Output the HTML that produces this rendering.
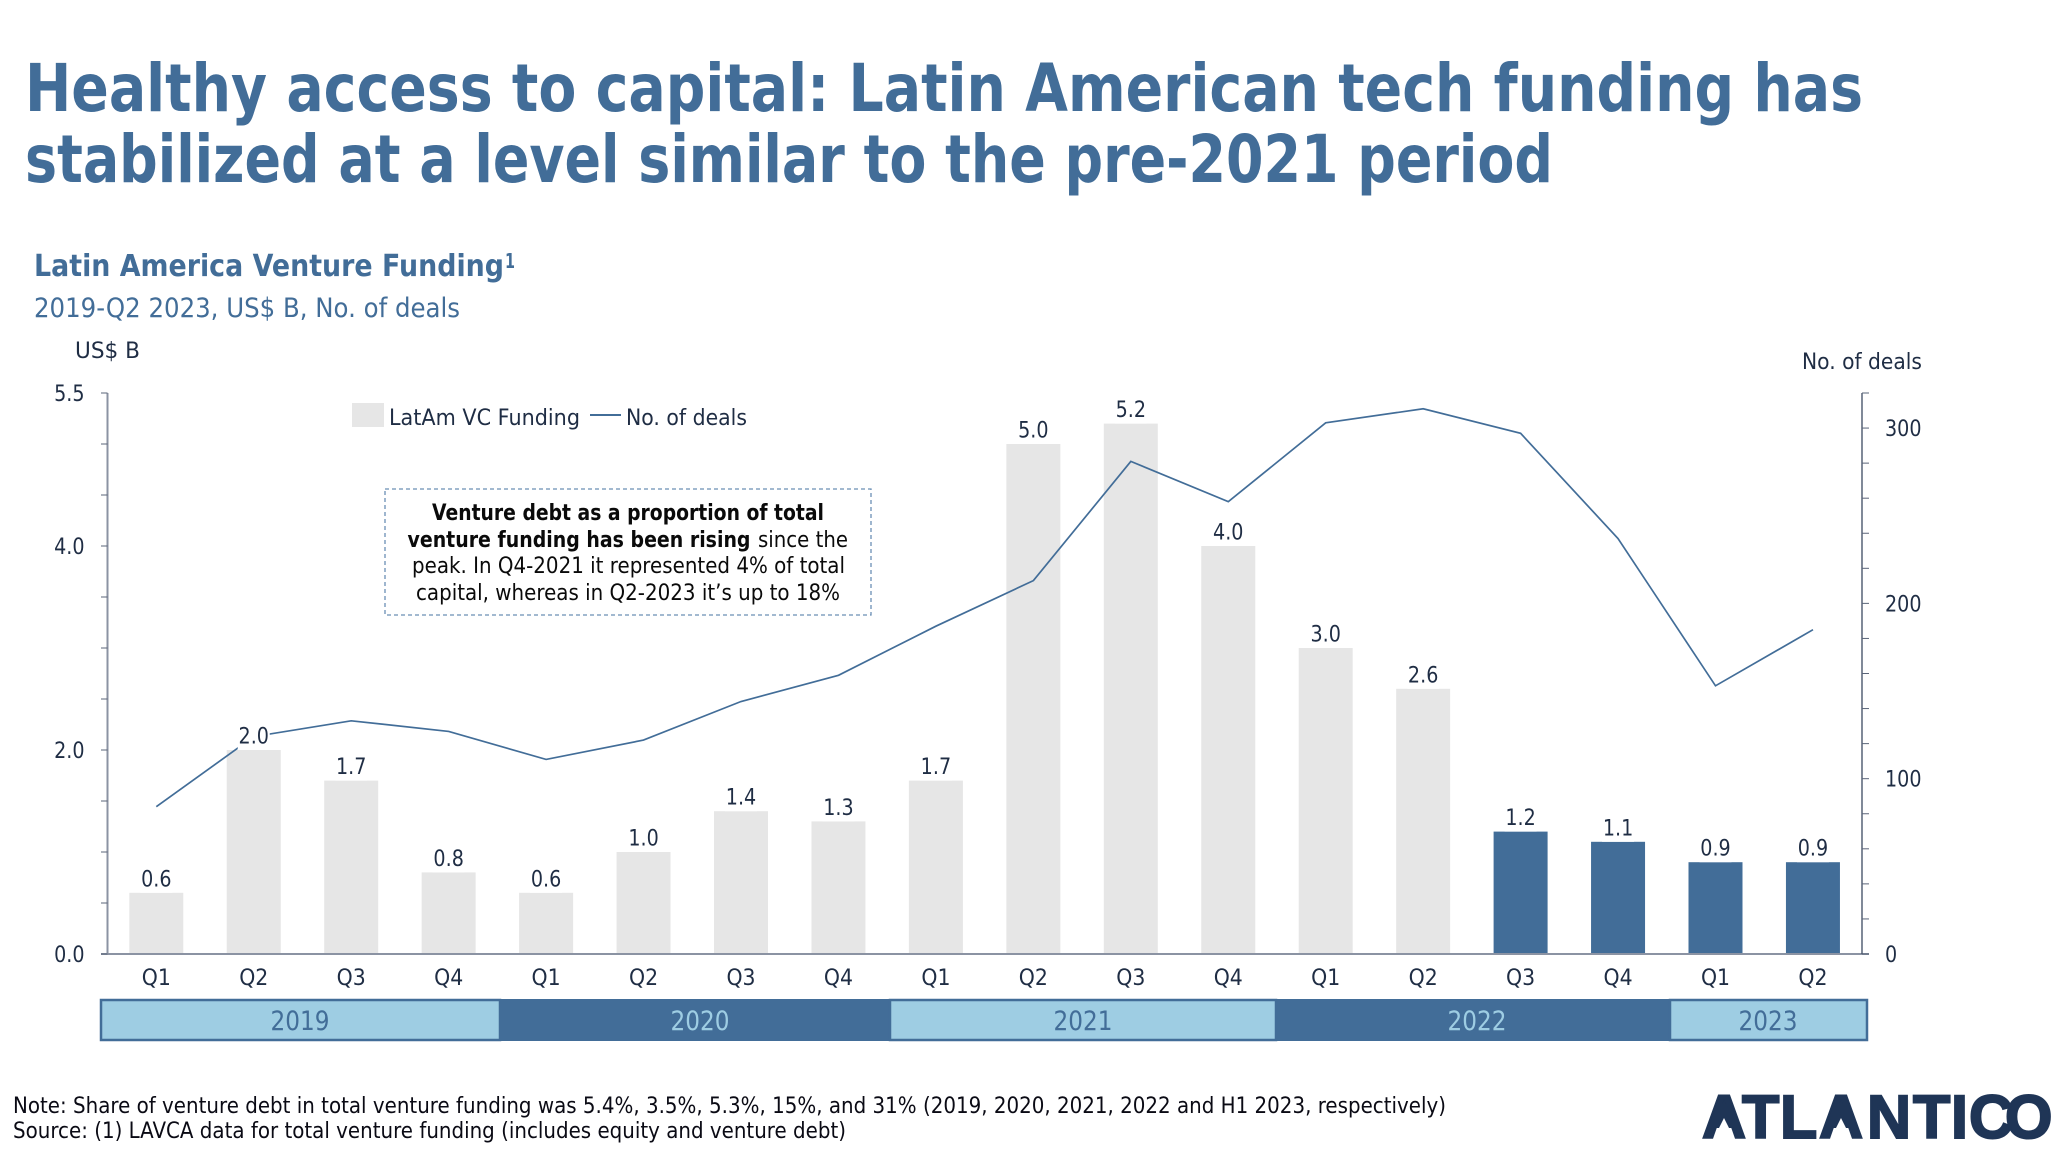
<!DOCTYPE html>
<html lang="en">
<head>
<meta charset="utf-8">
<title>Latin America Venture Funding</title>
<style>
html,body{margin:0;padding:0;background:#fff;width:2068px;height:1162px;overflow:hidden}
svg{display:block}
text{font-family:"DejaVu Sans","Liberation Sans",sans-serif;fill:#1f2d44}
.title{font-size:66px;font-weight:700;fill:#426d98}
.sub{fill:#426d98}
.note{font-size:22px;fill:#0a0a14}
.call{font-size:22px;fill:#0a0a0a}
.year{font-size:27px;text-anchor:middle}
</style>
</head>
<body>
<svg id="chart" width="2068" height="1162" viewBox="0 0 2068 1162" xmlns="http://www.w3.org/2000/svg">
  <text class="title" x="25" y="111" textLength="1838" lengthAdjust="spacingAndGlyphs">Healthy access to capital: Latin American tech funding has</text>
  <text class="title" x="25" y="182" textLength="1528" lengthAdjust="spacingAndGlyphs">stabilized at a level similar to the pre-2021 period</text>
  <text class="sub" x="34" y="276" font-size="30" font-weight="700" textLength="470" lengthAdjust="spacingAndGlyphs">Latin America Venture Funding</text>
  <text class="sub" x="505" y="268" font-size="20" font-weight="700" textLength="10" lengthAdjust="spacingAndGlyphs">1</text>
  <text class="sub" x="34" y="317" font-size="27" textLength="426" lengthAdjust="spacingAndGlyphs">2019-Q2 2023, US$ B, No. of deals</text>
  <text x="75" y="358" font-size="22" textLength="65" lengthAdjust="spacingAndGlyphs">US$ B</text>
  <text x="1802" y="369" font-size="22" textLength="120" lengthAdjust="spacingAndGlyphs">No. of deals</text>

  <g id="bars"></g>
  <g id="axes"></g>
  <g id="line-layer"></g>
  <g id="labels"></g>

  <g>
    <rect x="352" y="403" width="32" height="24" fill="#e6e6e6"/>
    <text x="389" y="425" font-size="22" textLength="191" lengthAdjust="spacingAndGlyphs">LatAm VC Funding</text>
    <line x1="590" x2="621" y1="415" y2="415" stroke="#426d98" stroke-width="2"/>
    <text x="626" y="425" font-size="22" textLength="121" lengthAdjust="spacingAndGlyphs">No. of deals</text>
  </g>

  <g>
    <rect x="385" y="489" width="486" height="126" fill="#fff" stroke="#6b8fb5" stroke-width="1.3" stroke-dasharray="4 3"/>
    <text class="call" x="432" y="520" font-weight="700" textLength="392" lengthAdjust="spacingAndGlyphs">Venture debt as a proportion of total</text>
    <text class="call" y="547"><tspan x="407.5" font-weight="700" textLength="343" lengthAdjust="spacingAndGlyphs">venture funding has been rising</tspan><tspan x="758" textLength="90" lengthAdjust="spacingAndGlyphs">since the</tspan></text>
    <text class="call" x="412" y="573" textLength="433" lengthAdjust="spacingAndGlyphs">peak. In Q4-2021 it represented 4% of total</text>
    <text class="call" x="416" y="600" textLength="424" lengthAdjust="spacingAndGlyphs">capital, whereas in Q2-2023 it’s up to 18%</text>
  </g>

  <g>
    <rect x="101" y="1000" width="399" height="40" fill="#9ecde3" stroke="#426d98" stroke-width="2.5"/>
    <rect x="500" y="999" width="390" height="42" fill="#426d98"/>
    <rect x="890" y="1000" width="386" height="40" fill="#9ecde3" stroke="#426d98" stroke-width="2.5"/>
    <rect x="1276" y="999" width="394" height="42" fill="#426d98"/>
    <rect x="1670" y="1000" width="197" height="40" fill="#9ecde3" stroke="#426d98" stroke-width="2.5"/>
    <text class="year" x="300" y="1030" textLength="59" lengthAdjust="spacingAndGlyphs" style="fill:#426d98">2019</text>
    <text class="year" x="700" y="1030" textLength="59" lengthAdjust="spacingAndGlyphs" style="fill:#9ecde3">2020</text>
    <text class="year" x="1083" y="1030" textLength="59" lengthAdjust="spacingAndGlyphs" style="fill:#426d98">2021</text>
    <text class="year" x="1477" y="1030" textLength="59" lengthAdjust="spacingAndGlyphs" style="fill:#9ecde3">2022</text>
    <text class="year" x="1768" y="1030" textLength="59" lengthAdjust="spacingAndGlyphs" style="fill:#426d98">2023</text>
  </g>

  <text class="note" x="13" y="1113" textLength="1433" lengthAdjust="spacingAndGlyphs">Note: Share of venture debt in total venture funding was 5.4%, 3.5%, 5.3%, 15%, and 31% (2019, 2020, 2021, 2022 and H1 2023, respectively)</text>
  <text class="note" x="13" y="1138" textLength="833" lengthAdjust="spacingAndGlyphs">Source: (1) LAVCA data for total venture funding (includes equity and venture debt)</text>

  <g>
    <text y="1138" x="1702 1742 1780 1819 1867 1913 1951 1969 2005" style="font-family:'Liberation Sans',sans-serif;font-weight:700;font-size:61px;fill:#1f3556;stroke:#1f3556;stroke-width:2">ATLANTICO</text>
    <polygon points="1724,1100 1710,1126 1738,1126" fill="#1f3556"/>
    <polygon points="1841,1100 1827,1126 1855,1126" fill="#1f3556"/>
    <polygon points="1724,1118 1713,1140 1735,1140" fill="#fff"/>
    <polygon points="1841,1118 1830,1140 1852,1140" fill="#fff"/>
  </g>
</svg>
<script>
const quarters = ['Q1','Q2','Q3','Q4','Q1','Q2','Q3','Q4','Q1','Q2','Q3','Q4','Q1','Q2','Q3','Q4','Q1','Q2'];
const funding = [0.6,2.0,1.7,0.8,0.6,1.0,1.4,1.3,1.7,5.0,5.2,4.0,3.0,2.6,1.2,1.1,0.9,0.9];
const deals = [84,124,133,127,111,122,144,159,187,213,281,258,303,311,297,237,153,185];
const recentQuarterCount = 4;
const leftTickValues = [0,0.5,1,1.5,2,2.5,3,3.5,4,4.5,5,5.5];
const leftTickLabels = ['0.0','2.0','4.0','5.5'];
const rightTickValues = [0,20,40,60,80,100,120,140,160,180,200,220,240,260,280,300,320];
const rightTickLabels = ['0','100','200','300'];

const leftMax = 5.5, rightMax = 320;
const plotTop = 393, plotBottom = 954, firstX = 156.3, stepX = 97.45, barWidth = 54;
const axisLeft = 107.5, axisRight = 1862;
const labelSize = 22, valueSqueeze = 0.87, quarterSqueeze = 0.93;
const NS = 'http://www.w3.org/2000/svg';
const xAt = i => firstX + stepX * i;
const yLeft = v => plotBottom - (plotBottom - plotTop) * v / leftMax;
const yRight = v => plotBottom - (plotBottom - plotTop) * v / rightMax;
const mk = (parent, tag, attrs, txt) => {
  const el = document.createElementNS(NS, tag);
  for (const k in attrs) el.setAttribute(k, attrs[k]);
  if (txt !== undefined) el.textContent = txt;
  parent.appendChild(el);
  return el;
};
const label = (parent, x, y, anchor, squeeze, txt) => mk(parent, 'text', {
  transform: 'translate(' + x + ',' + y + ') scale(' + squeeze + ',1)',
  'text-anchor': anchor,
  'font-size': labelSize
}, txt);
const barsG = document.getElementById('bars');
const axesG = document.getElementById('axes');
const lineG = document.getElementById('line-layer');
const labelsG = document.getElementById('labels');

funding.forEach((v, i) => {
  const recent = i >= funding.length - recentQuarterCount;
  const bar = mk(barsG, 'rect', {x: xAt(i) - barWidth / 2, y: yLeft(v), width: barWidth, height: plotBottom - yLeft(v), fill: recent ? '#426d98' : '#e6e6e6'});
  
  
  const halo = mk(labelsG, 'rect', {x: xAt(i) - 16, y: yLeft(v) - 26, width: 32, height: 26, fill: '#fff'});
  
  
  const lab = label(labelsG, xAt(i), yLeft(v) - 6.5, 'middle', valueSqueeze, v.toFixed(1));
  
  
  const q = label(axesG, xAt(i), 985, 'middle', quarterSqueeze, quarters[i]);
  
  
});

const leftAxis = mk(axesG, 'line', {x1: axisLeft, x2: axisLeft, y1: plotTop, y2: plotBottom, stroke: '#8b93a3', 'stroke-width': 2});


const baseline = mk(axesG, 'line', {x1: 101, x2: 1869, y1: plotBottom, y2: plotBottom, stroke: '#8b93a3', 'stroke-width': 2});


const rightAxis = mk(axesG, 'line', {x1: axisRight, x2: axisRight, y1: plotTop, y2: plotBottom, stroke: '#3d4a62', 'stroke-width': 1.3});



leftTickValues.forEach(v => {
  const t = mk(axesG, 'line', {x1: 101, x2: axisLeft, y1: yLeft(v), y2: yLeft(v), stroke: '#5a6478', 'stroke-width': 1});
  
  
});
leftTickLabels.forEach(s => {
  const t = label(axesG, 84.5, yLeft(parseFloat(s)) + 8, 'end', valueSqueeze, s);
  
  
});
rightTickValues.forEach(v => {
  const t = mk(axesG, 'line', {x1: axisRight, x2: 1869, y1: yRight(v), y2: yRight(v), stroke: '#5a6478', 'stroke-width': 1});
  
  
});
rightTickLabels.forEach(s => {
  const t = label(axesG, 1885, yRight(parseFloat(s)) + 8, 'start', valueSqueeze, s);
  
  
});

const pts = deals.map((d, i) => xAt(i).toFixed(1) + ',' + yRight(d).toFixed(1)).join(' ');
const dealsLine = mk(lineG, 'polyline', {points: pts, fill: 'none', stroke: '#426d98', 'stroke-width': 1.7});


</script>
</body>
</html>
